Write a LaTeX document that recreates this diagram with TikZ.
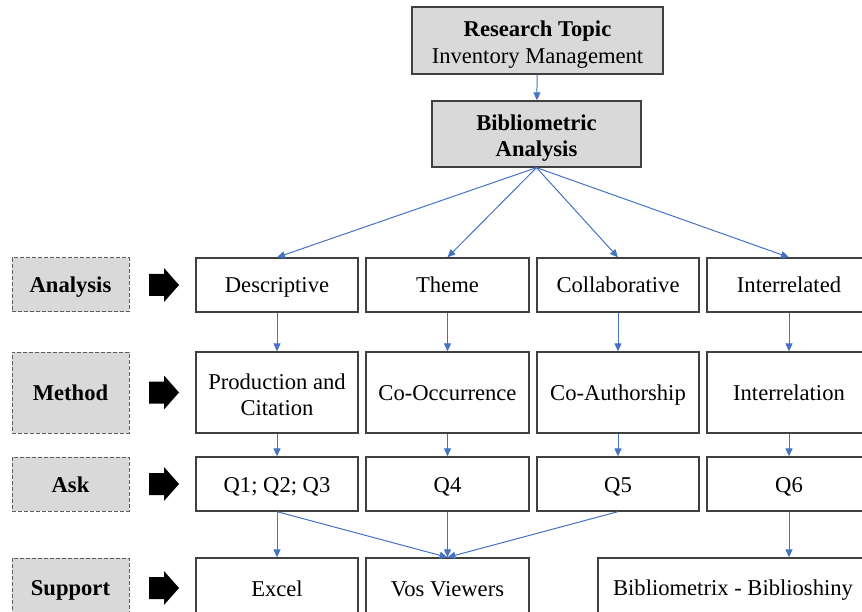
\documentclass[tikz,border=0pt]{standalone}
\usepackage{fontspec}
\setmainfont{Liberation Serif}
\usepackage{tikz}
\usetikzlibrary{arrows.meta}
\definecolor{boxgray}{HTML}{D9D9D9}
\definecolor{edgegray}{HTML}{404040}
\definecolor{linkblue}{HTML}{4472C4}
\newcommand\rowstrut{\rule[-4pt]{0pt}{24pt}}
\newcommand\firstline{\rule{0pt}{24pt}}

\begin{document}
\begin{tikzpicture}[x=1pt,y=-1pt,font=\fontsize{22.6}{26.5}\selectfont,
  box/.style={draw=edgegray,line width=1.3pt,align=center,inner sep=2pt,minimum width=162pt,minimum height=54pt,execute at begin node=\rowstrut},
  headbox/.style={box,fill=boxgray},
  tagbox/.style={draw=edgegray!85,line width=1pt,dash pattern=on 4pt off 2pt,fill=boxgray,minimum width=117pt,minimum height=54pt,font=\fontsize{22.6}{26.5}\selectfont\bfseries,execute at begin node=\rowstrut},
  link/.style={draw=linkblue,line width=1pt,-{Triangle[length=8pt,width=7pt]}}]
\useasboundingbox (0,0) rectangle (862,612);
% top of the chart
\node[headbox,minimum width=251pt,minimum height=67pt] (topic) at (537.5,40.5) {\firstline\textbf{Research Topic}\\Inventory Management};
\node[headbox,minimum width=209pt,minimum height=66pt,font=\fontsize{22.6}{26.5}\selectfont\bfseries] (biblio) at (536.5,134) {\firstline Bibliometric\\Analysis};
\draw[link] (topic) -- (biblio);
% row tags
\node[tagbox] (tagAnalysis) at (70.5,285) {Analysis};
\node[tagbox,minimum height=81pt] (tagMethod) at (70.5,392.5) {Method};
\node[tagbox] (tagAsk) at (70.5,484) {Ask};
\node[tagbox,minimum height=60pt] (tagSupport) at (70.5,588) {Support};
\fill (149,274) -- (164,274) -- (164,268) -- (179,285) -- (164,302) -- (164,296) -- (149,296) -- cycle;
\fill (149,381.5) -- (164,381.5) -- (164,375.5) -- (179,392.5) -- (164,409.5) -- (164,403.5) -- (149,403.5) -- cycle;
\fill (149,473) -- (164,473) -- (164,467) -- (179,484) -- (164,501) -- (164,495) -- (149,495) -- cycle;
\fill (149,577) -- (164,577) -- (164,571) -- (179,588) -- (164,605) -- (164,599) -- (149,599) -- cycle;
% analysis
\node[box] (desc) at (277,285) {Descriptive};
\node[box,minimum width=163pt] (theme) at (447.5,285) {Theme};
\node[box] (collab) at (618,285) {Collaborative};
\node[box,minimum width=164pt] (inter) at (789,285) {Interrelated};
% method
\node[box,minimum height=81pt] (prod) at (277,392.5) {\firstline Production and\\Citation};
\node[box,minimum width=163pt,minimum height=81pt] (cooc) at (447.5,392.5) {Co-Occurrence};
\node[box,minimum height=81pt] (coauth) at (618,392.5) {Co-Authorship};
\node[box,minimum width=164pt,minimum height=81pt] (interrel) at (789,392.5) {Interrelation};
% ask
\node[box] (qa) at (277,484) {Q1; Q2; Q3};
\node[box,minimum width=163pt] (qb) at (447.5,484) {Q4};
\node[box] (qc) at (618,484) {Q5};
\node[box,minimum width=164pt] (qd) at (789,484) {Q6};
% support
\node[box,minimum height=60pt] (excel) at (277,588) {Excel};
\node[box,minimum width=163pt,minimum height=60pt] (vos) at (447.5,588) {Vos Viewers};
\node[box,minimum width=270pt,minimum height=60pt] (bibx) at (733,588) {Bibliometrix - Biblioshiny};
% links
\draw[link] (biblio.south) -- (desc.north);
\draw[link] (biblio.south) -- (theme.north);
\draw[link] (biblio.south) -- (collab.north);
\draw[link] (biblio.south) -- (inter.north);
\draw[link] (desc) -- (prod);
\draw[link] (theme) -- (cooc);
\draw[link] (collab) -- (coauth);
\draw[link] (inter) -- (interrel);
\draw[link] (prod) -- (qa);
\draw[link] (cooc) -- (qb);
\draw[link] (coauth) -- (qc);
\draw[link] (interrel) -- (qd);
\draw[link] (qa) -- (excel);
\draw[link] (qa.south) -- (vos.north);
\draw[link] (qb) -- (vos);
\draw[link] (qc.south) -- (vos.north);
\draw[link] (qd.south) -- (qd.south |- bibx.north);
\end{tikzpicture}
\end{document}
